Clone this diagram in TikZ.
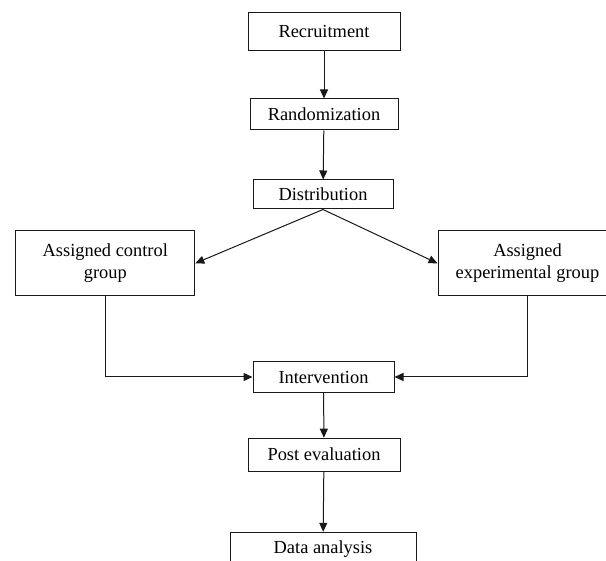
\documentclass[tikz,border=0pt]{standalone}
\usepackage{fontspec}
\setmainfont{Liberation Serif}
\usetikzlibrary{arrows.meta}
\begin{document}
\begin{tikzpicture}[x=1pt,y=-1pt,
  box/.style={draw=black!90,line width=1pt,inner sep=0pt,align=center,
    font=\fontsize{18.4}{21.5}\selectfont},
  conn/.style={draw=black!90,line width=1pt,-{Triangle[length=9pt,width=8pt]}}]
\useasboundingbox (0,0) rectangle (606,561);
\clip (0,0) rectangle (606,561);
\fill[white] (0,0) rectangle (606,561);
\node[box,minimum width=152pt,minimum height=38pt] (rec) at (324,32) {Recruitment};
\node[box,minimum width=148pt,minimum height=31pt] (ran) at (324,114.5) {Randomization};
\node[box,minimum width=140pt,minimum height=29pt] (dis) at (323,194.5) {Distribution};
\node[box,minimum width=179pt,minimum height=65pt] (ctl) at (105.3,263.3) {Assigned control\\group};
\node[box,minimum width=179pt,minimum height=65pt] (exp) at (527.5,263.3) {Assigned\\experimental group};
\node[box,minimum width=141pt,minimum height=31pt] (int) at (323.5,377) {Intervention};
\node[box,minimum width=152pt,minimum height=33pt] (post) at (324,454.7) {Post evaluation};
\node[box,minimum width=186pt,minimum height=33pt] (data) at (323,548.8) {Data analysis};
\draw[conn] (rec) -- (ran);
\draw[conn] (ran) -- (dis);
\draw[conn] (dis.south) -- (ctl.east);
\draw[conn] (dis.south) -- (exp.west);
\draw[conn] (ctl.south) |- (int.west);
\draw[conn] (exp.south) |- (int.east);
\draw[conn] (int) -- (post);
\draw[conn] (post) -- (data);
\end{tikzpicture}
\end{document}
